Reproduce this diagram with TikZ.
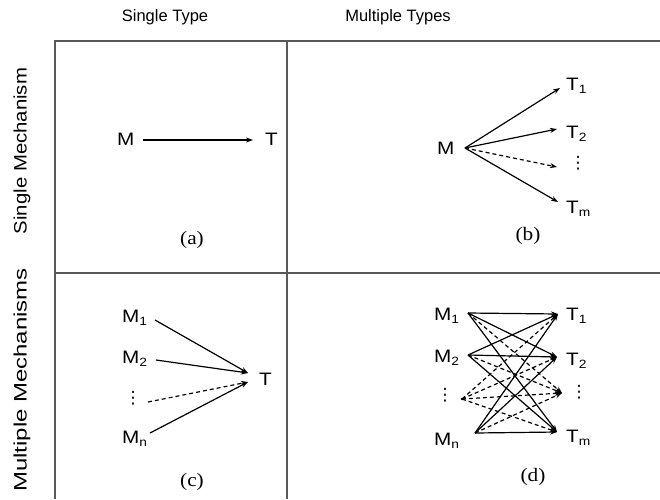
\documentclass[tikz,border=0pt]{standalone}
\usepackage{fontspec}
\setmainfont{Liberation Sans}
\newfontfamily\lblfont[FakeStretch=1.15]{Liberation Sans}
\newfontfamily\rowfontA[FakeStretch=1.13]{Liberation Sans}
\newfontfamily\rowfontB[FakeStretch=1.33]{Liberation Sans}
\newfontfamily\capfont[FakeStretch=1.12]{Liberation Serif}
\newfontfamily\dotfont{DejaVu Sans}
\usetikzlibrary{arrows.meta}
\newcommand\lsub[1]{\raisebox{-0.4ex}{\fontsize{12}{12}\selectfont #1}}
\tikzset{
  grid/.style={draw=black!65, line width=1.6pt},
  lbl/.style={font=\lblfont\fontsize{18}{18}\selectfont, inner sep=0pt, anchor=base west},
  hdr/.style={font=\fontsize{16.5}{16.5}\selectfont, inner sep=0pt},
  rowlbl/.style={inner sep=0pt, rotate=90},
  captxt/.style={font=\capfont\fontsize{19}{19}\selectfont, inner sep=0pt},
  vd/.style={inner sep=0pt, font=\dotfont\fontsize{17}{17}\selectfont, text height=7pt, text depth=7pt},
  arr/.style={line width=1.2pt, -{Stealth[length=7pt,width=5pt]}},
  darr/.style={arr, dashed, dash pattern=on 4pt off 3pt},
}
\begin{document}
\begin{tikzpicture}[x=1pt,y=-1pt]
\useasboundingbox (0,0) rectangle (660,499);
% table
\draw[grid] (55,499) -- (55,41) -- (660,41);
\draw[grid] (287,41) -- (287,499);
\draw[grid] (55,273) -- (660,273);
% headers
\node[hdr] (h1) at (165,17) {Single Type};
\node[hdr] (h2) at (398,17) {Multiple Types};
\node[rowlbl, font=\rowfontA\fontsize{18}{18}\selectfont] (r1) at (22,151) {Single Mechanism};
\node[rowlbl, font=\rowfontB\fontsize{18}{18}\selectfont] (r2) at (22,380) {Multiple Mechanisms};

% (a)
\node[lbl] (aM) at (117,145) {M};
\node[lbl] (aT) at (265,145) {T};
\coordinate (aMs) at (143,140);
\coordinate (aTe) at (253,140);
\draw[arr] (aMs) -- (aTe);
\node[captxt] (ca) at (192,240) {(a)};

% (b)
\node[lbl] (bM) at (437,154) {M};
\node[lbl] (bT1) at (566,90) {T\lsub{1}};
\node[lbl] (bT2) at (566,138) {T\lsub{2}};
\node[vd] (bTd) at (578,168) {⋮};
\node[lbl] (bTm) at (566,213) {T\lsub{m}};
\coordinate (bMs) at (465,148);
\coordinate (bt1) at (560,88);
\coordinate (bt2) at (557,129);
\coordinate (btd) at (557,167);
\coordinate (btm) at (558,202);
\draw[arr] (bMs) -- (bt1);
\draw[arr] (bMs) -- (bt2);
\draw[darr] (bMs) -- (btd);
\draw[arr] (bMs) -- (btm);
\node[captxt] (cb) at (528,236) {(b)};

% (c)
\node[lbl] (cM1) at (122,322) {M\lsub{1}};
\node[lbl] (cM2) at (122,363) {M\lsub{2}};
\node[vd] (cMd) at (133,403) {⋮};
\node[lbl] (cMn) at (122,443) {M\lsub{n}};
\node[lbl] (cT) at (259,385) {T};
\coordinate (c1) at (155,320);
\coordinate (c2) at (156,360);
\coordinate (cd) at (148,402);
\coordinate (cn) at (150,433);
\coordinate (ctA) at (248,373);
\coordinate (ctB) at (248,382);
\draw[arr] (c1) -- (ctA);
\draw[arr] (c2) -- (ctA);
\draw[darr] (cd) -- (ctB);
\draw[arr] (cn) -- (ctB);
\node[captxt] (cc) at (192,482) {(c)};

% (d)
\node[lbl] (dM1) at (434,320) {M\lsub{1}};
\node[lbl] (dM2) at (434,362) {M\lsub{2}};
\node[vd] (dMd) at (445,400) {⋮};
\node[lbl] (dMn) at (434,445) {M\lsub{n}};
\node[lbl] (dT1) at (566,320) {T\lsub{1}};
\node[lbl] (dT2) at (566,365) {T\lsub{2}};
\node[vd] (dTd) at (579,397) {⋮};
\node[lbl] (dTm) at (566,442) {T\lsub{m}};
\coordinate (m1) at (468,313);
\coordinate (m2) at (468,355);
\coordinate (md) at (462,399);
\coordinate (mn) at (475,433);
\coordinate (t1) at (558,314);
\coordinate (t2) at (557,357);
\coordinate (td) at (562,393);
\coordinate (tm) at (557,432);
\foreach \a in {m1,m2,mn}{
  \foreach \b in {t1,t2,tm}{
    \draw[arr] (\a) -- (\b);
  }
  \draw[darr] (\a) -- (td);
}
\foreach \b in {t1,t2,td,tm}{
  \draw[darr] (md) -- (\b);
}
\fill (md) circle (1.3pt);
\node[captxt] (cdd) at (533,477) {(d)};
\end{tikzpicture}
\end{document}
